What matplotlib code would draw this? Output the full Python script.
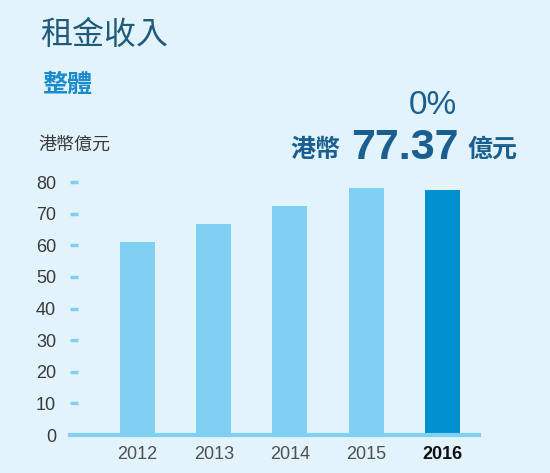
import matplotlib.pyplot as plt

# data
years = ['2012', '2013', '2014', '2015', '2016']
income = [61.1, 66.8, 72.4, 78.1, 77.37]
yticks = [0, 10, 20, 30, 40, 50, 60, 70, 80]

bg = '#e2f3fc'
light = '#80d0f3'
dark = '#0090d0'
cjk = ['Noto Sans CJK TC', 'DejaVu Sans']
num = ['Liberation Sans', 'DejaVu Sans']

fig = plt.figure(figsize=(5.5, 4.73), dpi=100, facecolor=bg)
ax = fig.add_axes([70/550, 38/473, 409/550, 253/473])
ax.set_facecolor(bg)

x = list(range(len(years)))
colors = [light] * (len(years) - 1) + [dark]
ax.bar(x, income, width=0.46, color=colors, zorder=2)

ax.set_xlim(-0.885, 4.48)
ax.set_ylim(0, 80)
for s in ['top', 'right', 'left']:
    ax.spines[s].set_visible(False)
ax.spines['bottom'].set_color(light)
ax.spines['bottom'].set_linewidth(3)
ax.spines['bottom'].set_zorder(3)

# short dashes for the y ticks (none at 0)
ax.set_yticks(yticks)
ax.set_yticklabels([str(v) for v in yticks], family=num, fontsize=13, color='#3a3a3a')
ax.tick_params(axis='y', length=0, pad=10)
for v in yticks[1:]:
    ax.plot([-0.885, -0.78], [v, v], color=light, lw=2.5, solid_capstyle='butt',
            clip_on=False, zorder=3)

ax.set_xticks(x)
ax.set_xticklabels(years, family=num, fontsize=13, color='#505050')
ax.tick_params(axis='x', length=0, pad=8)
last = ax.get_xticklabels()[-1]
last.set_fontweight('bold')
last.set_color('#111111')

# titles and annotations
fig.text(40/550, 1 - 35/473, '租金收入', family=cjk, fontsize=23, color='#1f5a7a', va='center')
fig.text(42/550, 1 - 85/473, '整體', family=cjk, fontsize=18, fontweight='bold', color='#1a8ccc', va='center')
fig.text(38/550, 1 - 145/473, '港幣億元', family=cjk, fontsize=13, color='#3a3a3a', va='center')
fig.text(433/550, 1 - 105/473, '0%', family=num, fontsize=24, color='#1a5f8f',
         ha='center', va='center')
fig.text(340/550, 1 - 150/473, '港幣', family=cjk, fontsize=18, fontweight='bold',
         color='#1a5f8f', ha='right', va='center')
fig.text(405/550, 1 - 148/473, '77.37', family=num, fontsize=31, fontweight='bold',
         color='#1a5f8f', ha='center', va='center')
fig.text(467/550, 1 - 150/473, '億元', family=cjk, fontsize=18, fontweight='bold',
         color='#1a5f8f', ha='left', va='center')

fig.savefig('out.png', dpi=100, facecolor=bg)
